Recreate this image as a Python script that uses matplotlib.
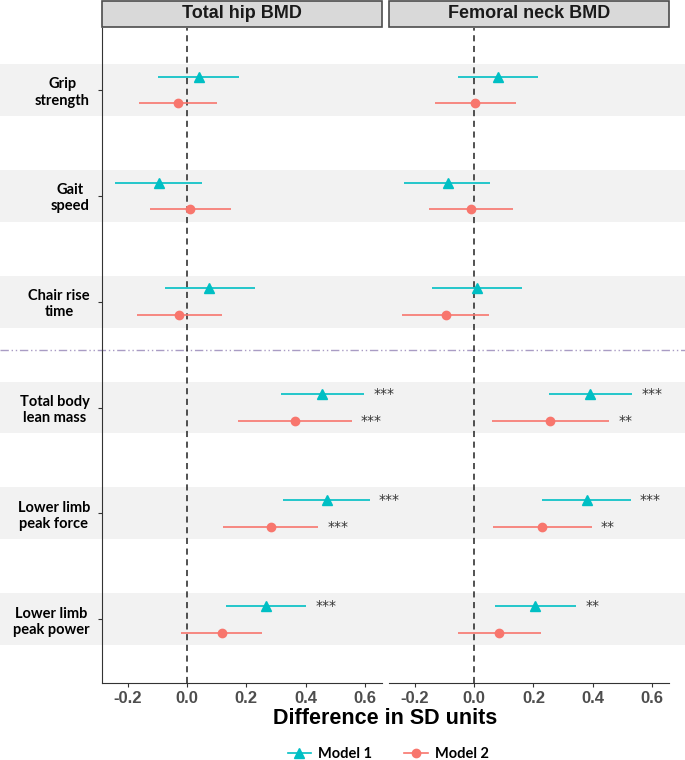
import matplotlib
matplotlib.use("Agg")
import matplotlib.pyplot as plt
from matplotlib.patches import Rectangle
from matplotlib.lines import Line2D
from matplotlib.transforms import blended_transform_factory

# rows from top to bottom
outcomes = ["Grip\nstrength", "Gait\nspeed", "Chair rise\ntime",
            "Total body\nlean mass", "Lower limb\npeak force", "Lower limb\npeak power"]
panels = ["Total hip BMD", "Femoral neck BMD"]

# Total hip BMD
hip_m1_est = [0.041, -0.093, 0.076, 0.456, 0.471, 0.267]
hip_m1_lo = [-0.096, -0.241, -0.074, 0.318, 0.323, 0.133]
hip_m1_hi = [0.177, 0.052, 0.228, 0.597, 0.617, 0.402]
hip_m1_sig = ["", "", "", "***", "***", "***"]
hip_m2_est = [-0.030, 0.011, -0.026, 0.364, 0.282, 0.117]
hip_m2_lo = [-0.163, -0.124, -0.168, 0.172, 0.121, -0.019]
hip_m2_hi = [0.102, 0.148, 0.118, 0.556, 0.442, 0.254]
hip_m2_sig = ["", "", "", "***", "***", ""]

# Femoral neck BMD
neck_m1_est = [0.080, -0.089, 0.009, 0.392, 0.379, 0.206]
neck_m1_lo = [-0.056, -0.236, -0.141, 0.252, 0.228, 0.070]
neck_m1_hi = [0.214, 0.054, 0.160, 0.533, 0.529, 0.344]
neck_m1_sig = ["", "", "", "***", "***", "**"]
neck_m2_est = [0.003, -0.012, -0.096, 0.257, 0.230, 0.085]
neck_m2_lo = [-0.133, -0.152, -0.243, 0.059, 0.063, -0.056]
neck_m2_hi = [0.140, 0.131, 0.050, 0.456, 0.397, 0.227]
neck_m2_sig = ["", "", "", "**", "**", ""]

xticks = [-0.2, 0.0, 0.2, 0.4, 0.6]

c1 = "#00BFC4"
c2 = "#F8766D"
bold_sans = ["Liberation Sans", "DejaVu Sans"]
label_font = ["Lato", "DejaVu Sans"]

n = len(outcomes)
ypos = [n - i for i in range(n)]

fig = plt.figure(figsize=(6.85, 7.6), dpi=100)
ax1 = fig.add_axes([0.1485, 0.1017, 0.4096, 0.8615])
ax2 = fig.add_axes([0.5679, 0.1017, 0.4092, 0.8615])

data = [
    (hip_m1_est, hip_m1_lo, hip_m1_hi, hip_m1_sig, hip_m2_est, hip_m2_lo, hip_m2_hi, hip_m2_sig),
    (neck_m1_est, neck_m1_lo, neck_m1_hi, neck_m1_sig, neck_m2_est, neck_m2_lo, neck_m2_hi, neck_m2_sig),
]

for ax, title, d in zip([ax1, ax2], panels, data):
    m1e, m1l, m1h, m1s, m2e, m2l, m2h, m2s = d
    ax.set_facecolor("none")
    ax.set_xlim(-0.287, 0.658)
    ax.set_ylim(0.401, 6.585)
    ax.axvline(0, color="#222222", lw=1.1, dashes=(4, 3), zorder=1)

    y1 = [y + 0.125 for y in ypos]
    y2 = [y - 0.125 for y in ypos]
    ax.hlines(y1, m1l, m1h, color=c1, lw=1.2, zorder=2)
    ax.plot(m1e, y1, "^", color=c1, ms=7.5, zorder=3)
    ax.hlines(y2, m2l, m2h, color=c2, lw=1.2, zorder=2)
    ax.plot(m2e, y2, "o", color=c2, ms=6, zorder=3)
    for yy, hi, s in zip(y1, m1h, m1s):
        if s:
            ax.text(hi + 0.03, yy, s, ha="left", va="center", fontsize=10, color="#333333")
    for yy, hi, s in zip(y2, m2h, m2s):
        if s:
            ax.text(hi + 0.03, yy, s, ha="left", va="center", fontsize=10, color="#333333")

    ax.set_xticks(xticks)
    ax.set_xticklabels([f"{t:.1f}" for t in xticks], fontfamily=bold_sans,
                       fontweight="bold", fontsize=12, color="#4D4D4D")
    ax.tick_params(axis="x", length=3, color="#333333", pad=3)
    for sp in ["top", "right"]:
        ax.spines[sp].set_visible(False)
    ax.spines["bottom"].set_color("#333333")

    # facet strip
    ax.add_patch(Rectangle((0, 1.0015), 1, 0.0397, transform=ax.transAxes,
                           facecolor="#D9D9D9", edgecolor="#4D4D4D", lw=1.2, clip_on=False))
    ax.text(0.5, 1.0015 + 0.0397 / 2, title, transform=ax.transAxes, ha="center", va="center",
            fontfamily=bold_sans, fontweight="bold", fontsize=13, color="#1A1A1A")

ax1.set_yticks(ypos)
ax1.set_yticklabels(outcomes, fontfamily=label_font, fontweight="bold", fontsize=10.5)
for lbl in ax1.get_yticklabels():
    lbl.set_multialignment("center")
ax1.tick_params(axis="y", length=3, color="#333333", pad=5.5)
ax1.spines["left"].set_color("#333333")
ax2.spines["left"].set_visible(False)
ax2.set_yticks([])

# background bands across the whole figure
tr = blended_transform_factory(fig.transFigure, ax1.transData)
for y in ypos:
    fig.add_artist(Rectangle((0, y - 0.245), 1, 0.49, transform=tr,
                             facecolor="#F2F2F2", edgecolor="none", zorder=-1))
fig.add_artist(Line2D([0, 1], [3.54, 3.54], transform=tr, color="#A99CC4",
                      lw=1, dashes=(6, 2, 1, 2, 1, 2), zorder=-0.5))

fig.text(0.562, 0.054, "Difference in SD units", ha="center", va="center",
         fontfamily=bold_sans, fontweight="bold", fontsize=15.5)

handles = [Line2D([], [], color=c1, marker="^", ms=7.5, lw=1.2),
           Line2D([], [], color=c2, marker="o", ms=6, lw=1.2)]
fig.legend(handles, ["Model 1", "Model 2"], loc="center", bbox_to_anchor=(0.567, 0.008),
           ncol=2, frameon=False, handlelength=1.6, handletextpad=0.5, columnspacing=2.2,
           prop={"family": label_font, "weight": "bold", "size": 10.5})

fig.savefig("out.png", dpi=100)
